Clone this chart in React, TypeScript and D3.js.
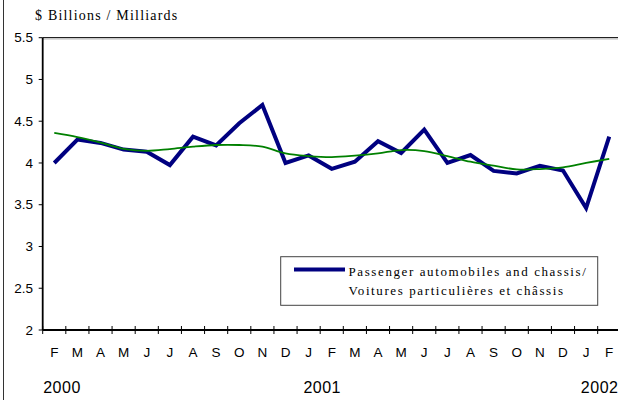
import React from "react";
import * as d3 from "d3";

const months = ["F","M","A","M","J","J","A","S","O","N","D","J","F","M","A","M","J","J","A","S","O","N","D","J","F"];
const passenger = [4.0,4.28,4.24,4.16,4.135,3.975,4.315,4.21,4.475,4.695,4.0,4.09,3.93,4.015,4.26,4.12,4.40,4.0,4.095,3.905,3.875,3.967,3.91,3.46,4.315];
const trend = [4.36,4.31,4.245,4.17,4.145,4.167,4.195,4.215,4.215,4.195,4.115,4.083,4.07,4.087,4.115,4.155,4.143,4.083,4.015,3.967,3.924,3.927,3.947,4.0,4.05];
const yTicks = [2,2.5,3,3.5,4,4.5,5,5.5];
const years = [{ label: "2000", idx: 0 }, { label: "2001", idx: 11 }, { label: "2002", idx: 24 }];
const title = "$ Billions / Milliards";
const legendLines = ["Passenger automobiles and chassis/", "Voitures particulières et châssis"];

const W = 618, H = 400;
const left = 42.7, right = 620.8, top = 37.7, bottom = 330;
const sans = "'Liberation Sans', Arial, sans-serif";
const serif = "'Liberation Serif', 'Times New Roman', serif";

export default function App() {
  const x = d3.scaleBand<number>().domain(months.map((_, i) => i)).range([left, right]).paddingInner(0).paddingOuter(0);
  const y = d3.scaleLinear().domain([2, 5.5]).range([bottom, top]);
  const cx = (i: number) => (x(i) as number) + x.bandwidth() / 2;
  const line = d3.line<number>().x((_, i) => cx(i)).y((d) => y(d));
  const smooth = d3.line<number>().x((_, i) => cx(i)).y((d) => y(d)).curve(d3.curveCatmullRom.alpha(0.5));
  const tickXs = months.map((_, i) => x(i) as number).concat([right]);
  const yearOffsets = [7.75, 13.6, -9.6];

  return (
    <svg width={W} height={H} style={{ position: "absolute", left: 0, top: 0, background: "#fff" }}>
      <rect x={0} y={0} width={W} height={H} fill="#fff" />
      <line x1={3.5} x2={3.5} y1={0} y2={H} stroke="#333" strokeWidth={1} />
      <text x={35} y={19.5} fontFamily={serif} fontSize={14} letterSpacing={1.2} fill="#000">{title}</text>
      {/* plot frame */}
      <line x1={left} x2={W} y1={top} y2={top} stroke="#222" strokeWidth={1.3} />
      <line x1={left} x2={W} y1={top + 1.5} y2={top + 1.5} stroke="#ccc" strokeWidth={1} />
      <line x1={left} x2={left} y1={top} y2={bottom} stroke="#000" strokeWidth={1.8} />
      <line x1={left} x2={W} y1={bottom} y2={bottom} stroke="#000" strokeWidth={1.8} />
      {yTicks.map((t) => (
        <g key={t}>
          <line x1={left - 4} x2={left} y1={y(t)} y2={y(t)} stroke="#000" strokeWidth={1} />
          <text x={33} y={y(t) + 4.7} textAnchor="end" fontFamily={sans} fontSize={13.5} fill="#000">{t}</text>
        </g>
      ))}
      {tickXs.map((tx, i) => (
        <line key={i} x1={tx} x2={tx} y1={bottom - 4} y2={bottom + 4} stroke="#000" strokeWidth={1} />
      ))}
      {months.map((m, i) => (
        <text key={i} x={cx(i)} y={357} textAnchor="middle" fontFamily={sans} fontSize={13.5} fill="#000">{m}</text>
      ))}
      {years.map((yr, k) => (
        <text key={yr.label} x={cx(yr.idx) + yearOffsets[k]} y={392.5} textAnchor="middle" fontFamily={sans} fontSize={16} letterSpacing={0.5} fill="#000">{yr.label}</text>
      ))}
      <path d={line(passenger) || ""} fill="none" stroke="#000080" strokeWidth={4} strokeLinejoin="miter" />
      <path d={smooth(trend) || ""} fill="none" stroke="#008000" strokeWidth={1.8} />
      {/* legend */}
      <rect x={280.7} y={256.7} width={317} height={48.6} fill="#fff" stroke="#444" strokeWidth={1} />
      <line x1={294} x2={345} y1={269.5} y2={269.5} stroke="#000080" strokeWidth={4} />
      {legendLines.map((l, i) => (
        <text key={i} x={348.5} y={276 + i * 18.5} fontFamily={serif} fontSize={13} letterSpacing={1.6} fill="#000">{l}</text>
      ))}
    </svg>
  );
}
